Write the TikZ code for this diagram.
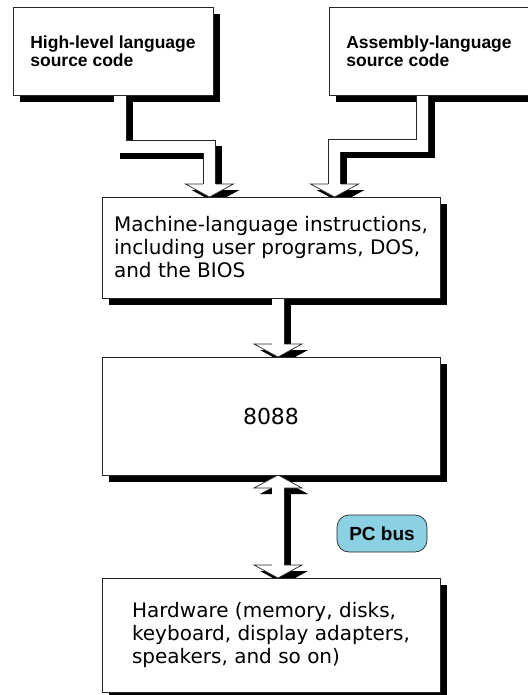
\documentclass[tikz,border=0pt]{standalone}
\usepackage{fontspec}
\setmainfont{DejaVu Sans}
\newfontfamily\headfont{Liberation Sans}
\usetikzlibrary{positioning,calc,backgrounds}
\definecolor{busblue}{RGB}{140,208,228}
% wide hollow arrow head: tip, direction (1 down, -1 up), style
\newcommand{\arrowhead}[3]{%
  \path[#3, shift={(#1)}, yscale=#2] (-6.2,-13) -- (-24,-13) -- (0,0) -- (24,-13) -- (6.2,-13);}

\begin{document}
\begin{tikzpicture}[
    x=1pt, y=-1pt,
    font=\fontsize{20}{23}\selectfont,
    box/.style={rectangle, draw=black!85, line width=0.7pt, fill=white, minimum width=338pt, inner sep=0pt, outer sep=0pt, align=left},
    srcbox/.style={box, minimum width=200pt, minimum height=88pt, font=\headfont\bfseries\fontsize{17.5}{17.5}\selectfont},
    busnode/.style={rectangle, rounded corners=12pt, draw=black!85, line width=0.7pt, fill=busblue, minimum width=90pt, minimum height=37pt, inner sep=0pt, font=\headfont\bfseries\fontsize{19}{19}\selectfont},
    stem/.style={draw=black!85, line width=0.7pt, double=white, double distance=11.6pt},
    stemshadow/.style={draw=black, line width=13pt, transform canvas={xshift=6pt, yshift=-6pt}},
    headbody/.style={fill=white, draw=black!85, line width=0.7pt},
    headshadow/.style={fill=black, transform canvas={xshift=6pt, yshift=-6pt}}
]
    \useasboundingbox (0,0) rectangle (527,695);

    % Source code
    \node[srcbox] (hl) at (113,51) {High-level language\\source code};
    \node[srcbox] (asm) at (429,51) {Assembly-language\\source code};

    % Machine code, processor, hardware
    \node[box, minimum height=101pt] (mach) at (271,247.5) {Machine-language instructions,\\including user programs, DOS,\\and the BIOS};
    \node[box, minimum height=118pt, below=59pt of mach, font=\fontsize{22}{26}\selectfont] (cpu) {8088};
    \node[box, minimum height=114pt, below=103pt of cpu] (hw) {Hardware (memory, disks,\\keyboard, display adapters,\\speakers, and so on)};
    \node[busnode] (bus) at (382,533.5) {PC bus};

    % Arrow ends
    \coordinate (hl-out) at ($(hl.south)+(7,-4)$);
    \coordinate (hl-in) at ($(mach.north)+(-61.5,0)$);
    \coordinate (asm-out) at ($(asm.south)+(-6.5,-4)$);
    \coordinate (asm-in) at ($(mach.north)+(63.5,0)$);
    \coordinate (mach-out) at ($(mach.south)+(7,-4)$);
    \coordinate (cpu-in) at ($(cpu.north)+(7,0)$);
    \coordinate (cpu-out) at ($(cpu.south)+(7,0)$);
    \coordinate (hw-in) at ($(hw.north)+(7,0)$);

    \begin{scope}[on background layer]
        % Shadows
        \foreach \n in {hl,asm,mach,cpu,hw}
            \fill[black] ([shift={(7,7)}]\n.north west) rectangle ([shift={(7,7)}]\n.south east);
        \draw[stemshadow] (hl-out) |- ($(hl-in)+(0,-50)$) -- ($(hl-in)+(0,-12)$);
        \draw[stemshadow] (asm-out) |- ($(asm-in)+(0,-51)$) -- ($(asm-in)+(0,-12)$);
        \draw[stemshadow] (mach-out) -- ($(cpu-in)+(0,-12)$);
        \draw[stemshadow] ($(cpu-out)+(0,12)$) -- ($(hw-in)+(0,-12)$);
        \arrowhead{hl-in}{1}{headshadow}
        \arrowhead{asm-in}{1}{headshadow}
        \arrowhead{cpu-in}{1}{headshadow}
        \arrowhead{cpu-out}{-1}{headshadow}
        \arrowhead{hw-in}{1}{headshadow}

        % Wide arrows
        \draw[stem] (hl-out) |- ($(hl-in)+(0,-50)$) -- ($(hl-in)+(0,-12)$);
        \draw[stem] (asm-out) |- ($(asm-in)+(0,-51)$) -- ($(asm-in)+(0,-12)$);
        \draw[stem] (mach-out) -- ($(cpu-in)+(0,-12)$);
        \draw[stem] ($(cpu-out)+(0,12)$) -- ($(hw-in)+(0,-12)$);
        \arrowhead{hl-in}{1}{headbody}
        \arrowhead{asm-in}{1}{headbody}
        \arrowhead{cpu-in}{1}{headbody}
        \arrowhead{cpu-out}{-1}{headbody}
        \arrowhead{hw-in}{1}{headbody}
    \end{scope}
\end{tikzpicture}
\end{document}
